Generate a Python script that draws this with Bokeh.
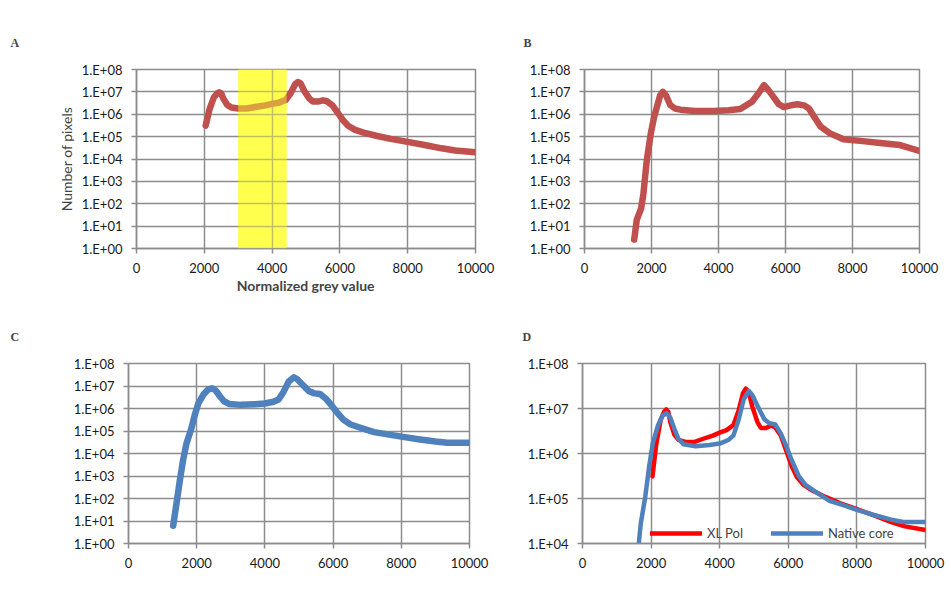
from bokeh.plotting import figure
from bokeh.layouts import column, row
from bokeh.models import (Range1d, FixedTicker, Title, BoxAnnotation, Legend,
                          LegendItem, CustomJSTickFormatter)
from bokeh.embed import file_html
from bokeh.resources import INLINE

# ---- data: pixel-count histograms (log scale) over normalized grey value ----
# XL Pol histogram (panel A and red curve of panel D)
grey_xl = [2040, 2150, 2280, 2380, 2440, 2500, 2560, 2680, 2800, 3000, 3250, 3500,
           3800, 4000, 4200, 4400, 4550, 4680, 4760, 4840, 4950, 5100, 5200, 5350,
           5500, 5620, 5780, 5950, 6100, 6250, 6450, 6700, 7100, 7500, 8000, 8500,
           9000, 9400, 10000]
count_xl = [3.1e5, 1.6e6, 5.6e6, 8.5e6, 9.5e6, 8.5e6, 5.0e6, 2.6e6, 2.0e6, 1.8e6, 1.8e6, 2.1e6,
            2.5e6, 2.9e6, 3.3e6, 4.3e6, 8.9e6, 2.2e7, 2.75e7, 2.4e7, 1.1e7, 5.0e6, 3.7e6, 3.7e6,
            4.2e6, 3.8e6, 2.5e6, 1.1e6, 5.2e5, 3.0e5, 2.0e5, 1.5e5, 1.07e5, 7.9e4, 5.8e4, 4.2e4,
            3.0e4, 2.4e4, 2.0e4]

# Panel B histogram
grey_b = [1483, 1560, 1690, 1760, 1860, 1980, 2080, 2160, 2260, 2340, 2430, 2560, 2700,
          2860, 3300, 3850, 4300, 4650, 5000, 5200, 5360, 5480, 5640, 5800, 5950, 6150,
          6350, 6550, 6700, 6850, 7050, 7330, 7730, 8300, 8830, 9420, 10000]
count_b = [2.5, 19, 62, 290, 8.9e3, 1.4e5, 7.9e5, 2.1e6, 7.1e6, 1.0e7, 7.1e6, 2.6e6, 1.8e6,
           1.6e6, 1.4e6, 1.4e6, 1.5e6, 1.7e6, 3.6e6, 8.9e6, 2.0e7, 1.26e7, 6.0e6, 2.8e6, 2.1e6, 2.5e6,
           2.8e6, 2.5e6, 1.8e6, 7.9e5, 2.8e5, 1.4e5, 7.6e4, 6.3e4, 5.2e4, 4.2e4, 2.3e4]

# Native core histogram (panel C and blue curve of panel D)
grey_native = [1310, 1400, 1500, 1600, 1700, 1830, 1950, 2050, 2200, 2330, 2450, 2560, 2680,
               2800, 2950, 3300, 3700, 4000, 4250, 4400, 4550, 4700, 4850, 4950, 5100, 5300,
               5450, 5620, 5780, 5950, 6100, 6300, 6500, 6800, 7200, 7600, 8000, 8500, 9000,
               9350, 10000]
count_native = [6.2, 50, 560, 5.0e3, 2.8e4, 1.1e5, 5.6e5, 1.7e6, 4.2e6, 6.9e6, 7.9e6, 6.3e6, 3.5e6,
                2.1e6, 1.6e6, 1.45e6, 1.55e6, 1.66e6, 2.0e6, 2.5e6, 5.6e6, 1.6e7, 2.45e7, 2.0e7, 1.15e7, 5.8e6,
                4.7e6, 4.4e6, 2.8e6, 1.4e6, 7.1e5, 3.2e5, 2.0e5, 1.4e5, 8.9e4, 7.1e4, 5.6e4, 4.3e4, 3.4e4,
                3.0e4, 3.0e4]

# highlighted grey-value window in panel A
highlight_range = [3000, 4430]

x_ticks = [0, 2000, 4000, 6000, 8000, 10000]
y_ticks = [1, 1e1, 1e2, 1e3, 1e4, 1e5, 1e6, 1e7, 1e8]

# ---- styling ----
GRID = "#8c8c8c"
RED = "#C0504D"
BLUE = "#4F81BD"
FONT = "Lato"


def exp_formatter():
    return CustomJSTickFormatter(code="""
        const e = Math.round(Math.log10(tick));
        return "1.E+" + String(e).padStart(2, "0");
    """)


def make_panel(width, height, left, right, top, bottom, y_lo, letter, letter_offset):
    p = figure(width=width, height=height, y_axis_type="log",
               x_range=Range1d(0, 10000), y_range=Range1d(y_lo, 1e8),
               output_backend="svg", toolbar_location=None,
               min_border_left=left, min_border_right=right,
               min_border_top=top, min_border_bottom=bottom,
               background_fill_color="white", border_fill_color="white")
    p.outline_line_color = GRID
    p.outline_line_width = 1.5

    p.xaxis.ticker = FixedTicker(ticks=x_ticks)
    p.yaxis.ticker = FixedTicker(ticks=[t for t in y_ticks if t >= y_lo])
    p.yaxis.formatter = exp_formatter()
    for ax in (p.xaxis, p.yaxis):
        ax.axis_line_color = GRID
        ax.axis_line_width = 1.5
        ax.major_tick_line_color = GRID
        ax.major_tick_line_width = 1.5
        ax.major_tick_out = 5
        ax.major_tick_in = 0
        ax.minor_tick_line_color = None
        ax.major_label_text_font = FONT
        ax.major_label_text_font_size = "13px"
        ax.major_label_text_color = "#1a1a1a"
    p.xaxis.major_label_standoff = 9
    p.yaxis.major_label_standoff = 9

    p.xgrid.ticker = FixedTicker(ticks=x_ticks)
    p.ygrid.ticker = FixedTicker(ticks=[t for t in y_ticks if t >= y_lo])
    for g in (p.xgrid, p.ygrid):
        g.grid_line_color = GRID
        g.grid_line_width = 1.5

    p.title = Title(text=letter, align="left", offset=letter_offset, standoff=40,
                    text_font="Liberation Serif", text_font_style="bold",
                    text_font_size="12px")
    return p


# Panel A
pA = make_panel(500, 300, 136, 25, 67, 48, 1, "A", -126)
pA.add_layout(BoxAnnotation(left=highlight_range[0], right=highlight_range[1],
                            fill_color="#FFFF66", fill_alpha=1.0, line_color=None,
                            level="image"))
pA.line(grey_xl, count_xl, line_color=RED, line_width=6.5,
        line_join="round", line_cap="round")
pA.add_layout(BoxAnnotation(left=highlight_range[0], right=highlight_range[1],
                            fill_color="#FFFF30", fill_alpha=0.45, line_color=None))
pA.yaxis.axis_label = "Number of pixels"
pA.yaxis.axis_label_text_font = FONT
pA.yaxis.axis_label_text_font_size = "14px"
pA.yaxis.axis_label_text_font_style = "normal"
pA.yaxis.axis_label_standoff = 4
pA.xaxis.axis_label = "Normalized grey value"
pA.xaxis.axis_label_text_font = FONT
pA.xaxis.axis_label_text_font_size = "14px"
pA.xaxis.axis_label_text_font_style = "bold"
pA.xaxis.axis_label_standoff = 1

# Panel B
pB = make_panel(451, 300, 84, 32, 69, 52, 1, "B", -61)
pB.line(grey_b, count_b, line_color=RED, line_width=6.5,
        line_join="round", line_cap="round")

# Panel C
pC = make_panel(500, 296, 128, 31, 63, 49, 1, "C", -118)
pC.line(grey_native, count_native, line_color=BLUE, line_width=6.5,
        line_join="round", line_cap="round")

# Panel D: both histograms on a shared axis
pD = make_panel(451, 296, 82, 26, 62, 53, 1e4, "D", -60)
r_xl = pD.line(grey_xl, count_xl, line_color="#FF0000", line_width=4.5,
               line_join="round", line_cap="round")
r_nat = pD.line(grey_native, count_native, line_color=BLUE, line_width=4.5,
                line_join="round", line_cap="round")
legend = Legend(items=[LegendItem(label="XL Pol", renderers=[r_xl]),
                       LegendItem(label="Native core", renderers=[r_nat])],
                orientation="horizontal", location=(68, 2),
                border_line_color=None, background_fill_alpha=0,
                label_text_font=FONT, label_text_font_size="13px",
                glyph_width=52, glyph_height=14, label_standoff=5, spacing=28,
                padding=0, margin=0)
pD.add_layout(legend)

layout = column(row(pA, pB), row(pC, pD))

with open("out.html", "w") as f:
    f.write(file_html(layout, INLINE))
